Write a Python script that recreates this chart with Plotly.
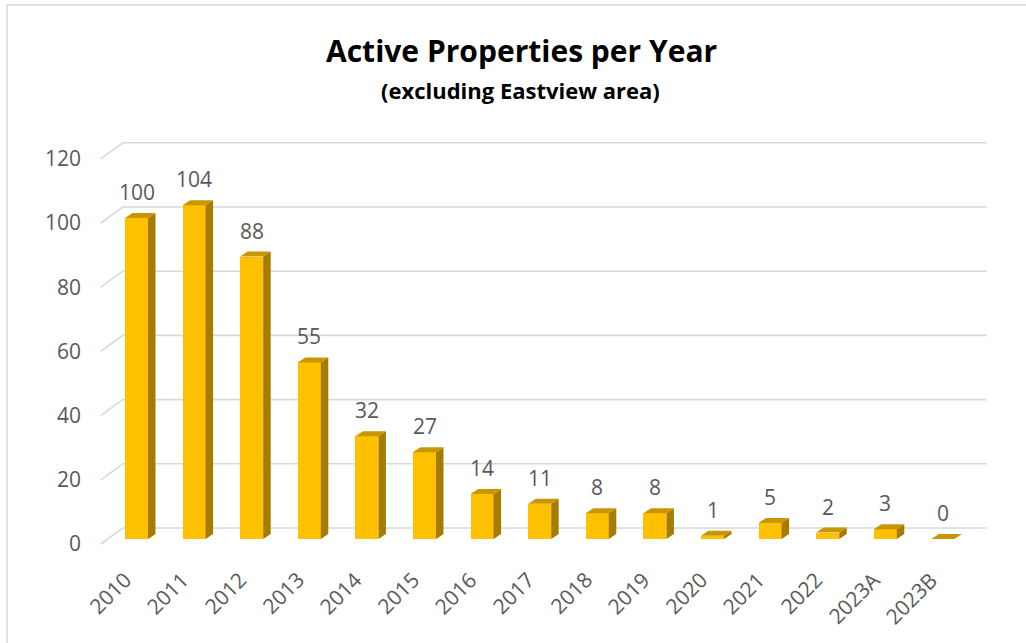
import plotly.graph_objects as go

# ---- data ----
categories = ["2010", "2011", "2012", "2013", "2014", "2015", "2016", "2017",
              "2018", "2019", "2020", "2021", "2022", "2023A", "2023B"]
values = [100, 104, 88, 55, 32, 27, 14, 11, 8, 8, 1, 5, 2, 3, 0]
y_ticks = [0, 20, 40, 60, 80, 100, 120]
title_text = "Active Properties per Year"
subtitle_text = "(excluding Eastview area)"

# ---- geometry (pixels) ----
W, H = 1026, 643
X0, S = 129.6, 57.6      # floor-front px of first category, px per category
Y0, K = 544.0, 3.21      # floor-front px of value 0, px per unit
L, R, T, B = 88, 1000, 125, 590

wall_dx, wall_dy = 22, 16      # back wall offset
front_dx, front_dy = 6.9, 5    # bar front-face offset
depth_dx, depth_dy = 7.5, 5    # bar depth
bar_w_px = 23

FONT = "Open Sans"
GRAY = "#595959"
GRID = "#D9D9D9"
C_FRONT, C_SIDE, C_TOP = "#FFC000", "#A67C00", "#C89600"

x_range = [(L - X0) / S, (R - X0) / S]
y_range = [(Y0 - B) / K, (Y0 - T) / K]

wdx, wdy = wall_dx / S, wall_dy / K
fdx, fdy = front_dx / S, front_dy / K
ddx, ddy = depth_dx / S, depth_dy / K
bw = bar_w_px / S

n = len(categories)
idx = list(range(n))
xc = [i + fdx for i in idx]

fig = go.Figure()

shapes = []
# gridlines (diagonal + back wall line), drawn below the bars
for t in y_ticks:
    path = "M {} {} L {} {} L {} {}".format(-0.5, t, -0.5 + wdx, t + wdy,
                                            n - 0.5 + wdx, t + wdy)
    shapes.append(dict(type="path", xref="x", yref="y", path=path,
                       line=dict(color=GRID, width=1.6), layer="below"))

# front faces
fig.add_trace(go.Bar(x=xc, y=values, base=fdy, width=bw,
                     marker=dict(color=C_FRONT, line=dict(width=0)),
                     showlegend=False, hoverinfo="skip"))

# side faces
sx, sy = [], []
for x, v in zip(xc, values):
    xr_ = x + bw / 2
    sx += [xr_, xr_ + ddx, xr_ + ddx, xr_, xr_, None]
    sy += [fdy, fdy + ddy, fdy + v + ddy, fdy + v, fdy, None]
fig.add_trace(go.Scatter(x=sx, y=sy, mode="lines", fill="toself",
                         fillcolor=C_SIDE, line=dict(width=0, color=C_SIDE),
                         hoverinfo="skip", showlegend=False))

# top faces
tx, ty = [], []
for x, v in zip(xc, values):
    xl, xr_ = x - bw / 2, x + bw / 2
    top = fdy + v
    tx += [xl, xl + ddx, xr_ + ddx, xr_, xl, None]
    ty += [top, top + ddy, top + ddy, top, top, None]
fig.add_trace(go.Scatter(x=tx, y=ty, mode="lines", fill="toself",
                         fillcolor=C_TOP, line=dict(width=0, color=C_TOP),
                         hoverinfo="skip", showlegend=False))

annotations = []
# data labels
for x, v in zip(xc, values):
    annotations.append(dict(x=x, y=fdy + v, xref="x", yref="y", text=str(v),
                            showarrow=False, yanchor="middle", yshift=26,
                            font=dict(family=FONT, size=21, color=GRAY)))
# category labels
for x, c in zip(xc, categories):
    annotations.append(dict(x=x, y=0, xref="x", yref="y", text=c,
                            showarrow=False, textangle=-45,
                            xanchor="right", yanchor="top", xshift=3, yshift=-19,
                            font=dict(family=FONT, size=21, color=GRAY)))

# titles (paper coords from pixels)
def px2paper_x(px):
    return (px - L) / (R - L)

def px2paper_y(py):
    return (B - py) / (B - T)

annotations.append(dict(x=px2paper_x(521), y=px2paper_y(51), xref="paper", yref="paper",
                        text="<b>" + title_text + "</b>", showarrow=False,
                        xanchor="center", yanchor="middle",
                        font=dict(family=FONT, size=30, color="#000000")))
annotations.append(dict(x=px2paper_x(520), y=px2paper_y(90), xref="paper", yref="paper",
                        text="<b>" + subtitle_text + "</b>", showarrow=False,
                        xanchor="center", yanchor="middle",
                        font=dict(family=FONT, size=22, color="#000000")))

shapes.append(dict(type="rect", xref="paper", yref="paper",
                   x0=px2paper_x(7), x1=px2paper_x(1060),
                   y0=px2paper_y(680), y1=px2paper_y(5),
                   line=dict(color=GRID, width=1.5), fillcolor="rgba(0,0,0,0)",
                   layer="below"))

fig.update_layout(
    width=W, height=H,
    margin=dict(l=L, r=W - R, t=T, b=H - B, pad=0),
    paper_bgcolor="white", plot_bgcolor="white",
    xaxis=dict(range=x_range, visible=False, fixedrange=True),
    yaxis=dict(range=y_range, tickvals=y_ticks, showgrid=False, zeroline=False,
               showline=False, ticks="", ticklabelstandoff=6,
               tickfont=dict(family=FONT, size=21, color=GRAY), fixedrange=True),
    bargap=0,
    annotations=annotations,
    shapes=shapes,
    showlegend=False,
)

fig.write_html("out.html", config={"displayModeBar": False},
               post_script="document.body.style.margin='0';")
